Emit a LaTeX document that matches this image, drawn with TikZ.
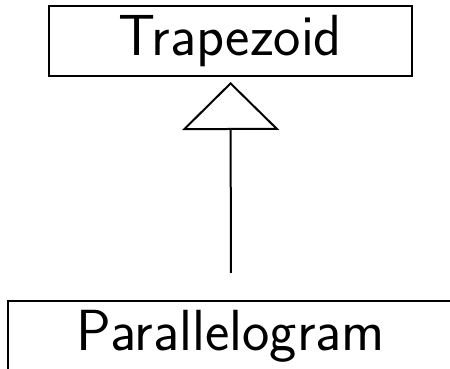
\documentclass[tikz,border=0pt]{standalone}
\usetikzlibrary{arrows.meta,positioning}
\tikzset{
  class/.style={draw, line width=2pt, inner sep=0pt, minimum height=70pt,
    font=\fontsize{58}{62}\selectfont\sffamily},
  inherit/.style={line width=2pt, -{Triangle[open,length=48pt,width=97pt]}}
}
\begin{document}
\begin{tikzpicture}[x=1pt,y=1pt]
  \useasboundingbox (0,0) rectangle (450,369);
  \node[class, minimum width=363pt] (trap) at (230.5,328) {Trapezoid};
  \node[class, minimum width=446pt] (para) at (231,33) {Parallelogram};

  \draw[inherit, shorten <=27pt, shorten >=5pt] (para) -- (trap);
\end{tikzpicture}
\end{document}
